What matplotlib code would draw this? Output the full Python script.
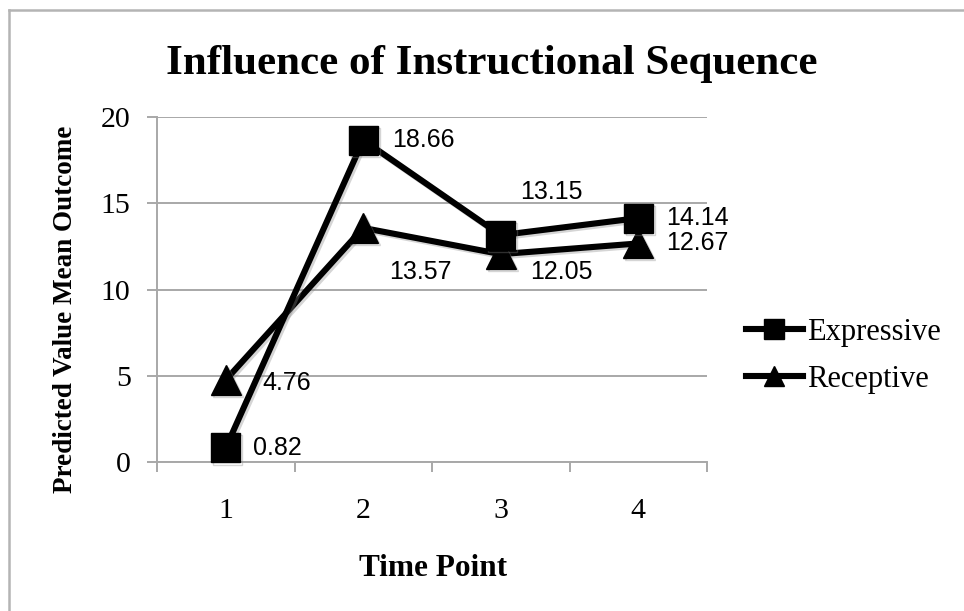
import matplotlib
matplotlib.use("Agg")
import matplotlib.pyplot as plt
from matplotlib.lines import Line2D
import matplotlib.patheffects as pe

time_points = [1, 2, 3, 4]
tick_labels = ["1", "2", "3", "4"]
expressive = [0.82, 18.66, 13.15, 14.14]
receptive = [4.76, 13.57, 12.05, 12.67]
title = "Influence of Instructional Sequence"
xlabel = "Time Point"
ylabel = "Predicted Value Mean Outcome"

W, H, DPI = 964, 611, 100
fig = plt.figure(figsize=(W / DPI, H / DPI), dpi=DPI)
ax = fig.add_axes([157 / W, 1 - 462 / H, 550 / W, 345 / H])

serif = "Liberation Serif"
sans = "Liberation Sans"
grid_c = "#a8a8a8"

shadow = [pe.SimpleLineShadow(offset=(1.5, -1.5), shadow_color="#888888", alpha=0.35), pe.Normal()]

ax.plot(time_points, expressive, color="black", lw=4.4, marker="s", markersize=21,
        clip_on=False, zorder=4, label="Expressive", path_effects=shadow)
ax.plot(time_points, receptive, color="black", lw=4.4, marker="^", markersize=21.5,
        clip_on=False, zorder=3, label="Receptive", path_effects=shadow)

ax.set_xlim(0.5, 4.5)
ax.set_ylim(0, 20)
ax.set_yticks([0, 5, 10, 15, 20])
ax.set_xticks(time_points)
ax.set_xticklabels(tick_labels)
ax.set_xticks([0.5, 1.5, 2.5, 3.5, 4.5], minor=True)
ax.yaxis.grid(True, color=grid_c, lw=1.4)
ax.set_axisbelow(True)
for s in ["top", "right"]:
    ax.spines[s].set_visible(False)
for s in ["left", "bottom"]:
    ax.spines[s].set_color(grid_c)
    ax.spines[s].set_linewidth(1.4)
ax.tick_params(axis="y", which="major", length=7, width=1.4, color=grid_c, pad=12,
               labelsize=21.5)
ax.tick_params(axis="x", which="major", length=0, pad=26, labelsize=21.5)
ax.tick_params(axis="x", which="minor", length=7, width=1.4, color=grid_c)
for lab in ax.get_xticklabels() + ax.get_yticklabels():
    lab.set_family(serif)

# data labels: offsets in pixels (dx, dy) relative to the point, ha
px = 72 / DPI
exp_off = [(27, 0, "left"), (29, 0, "left"), (51, 43, "center"), (28, 0, "left")]
rec_off = [(37, -3, "left"), (57, -44, "center"), (61, -18, "center"), (28, 0, "left")]
for xs, ys, offs in [(time_points, expressive, exp_off), (time_points, receptive, rec_off)]:
    for x, y, (dx, dy, ha) in zip(xs, ys, offs):
        ax.annotate(f"{y:.2f}", (x, y), xytext=(dx * px, dy * px), textcoords="offset points",
                    ha=ha, va="center", fontsize=18, family=sans, zorder=6)

fig.text(492 / W, 1 - 64 / H, title, ha="center", va="center", fontsize=31,
         fontweight="bold", family=serif)
fig.text(433 / W, 1 - 569 / H, xlabel, ha="center", va="center", fontsize=22.5,
         fontweight="bold", family=serif)
fig.text(66 / W, 1 - 309 / H, ylabel, ha="center", va="center", rotation=90,
         fontsize=19.5, fontweight="bold", family=serif)

leg = fig.legend(handles=ax.get_lines(), labels=["Expressive", "Receptive"],
                 loc="center left", bbox_to_anchor=(746 / W, 1 - 356 / H),
                 frameon=False, prop={"family": serif, "size": 22},
                 borderpad=0, borderaxespad=0,
                 handlelength=1.86, handletextpad=0.13, labelspacing=0.58,
                 markerscale=0.7)
for h in leg.legend_handles:
    h.set_path_effects([])

# figure border (left and top only visible)
fig.add_artist(Line2D([9 / W, 9 / W], [0, 1 - 10 / H], color="#b4b4b4", lw=1.8,
                      transform=fig.transFigure))
fig.add_artist(Line2D([9 / W, 1], [1 - 10 / H, 1 - 10 / H], color="#b4b4b4", lw=1.8,
                      transform=fig.transFigure))

fig.savefig("out.png", dpi=DPI)
